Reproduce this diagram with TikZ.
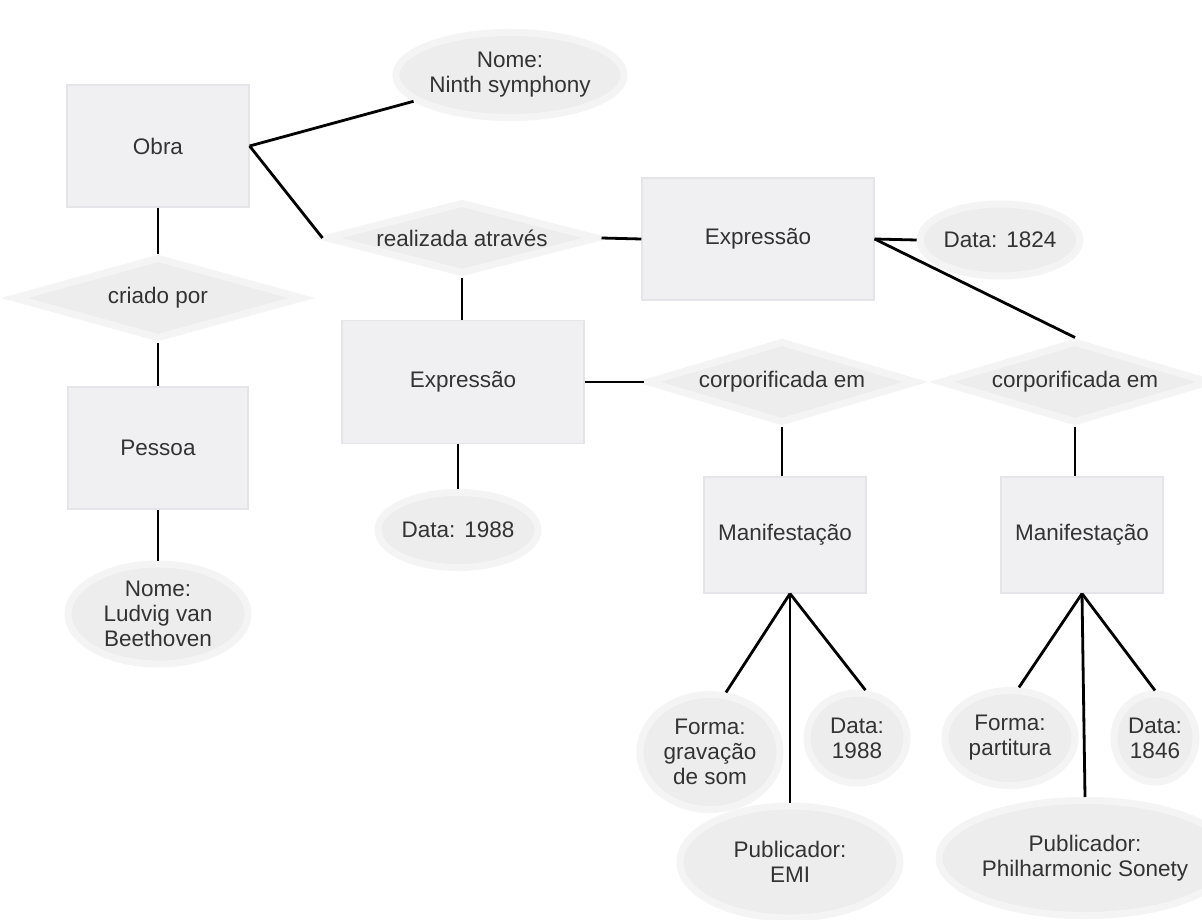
\documentclass[tikz,border=0pt]{standalone}
\usepackage{fontspec}
\setmainfont{Liberation Sans}
\usetikzlibrary{shapes.geometric}
\definecolor{boxfill}{HTML}{F0F0F3}
\definecolor{boxedge}{HTML}{E4E4E9}
\definecolor{blobfill}{HTML}{EDEDED}
\definecolor{blobedge}{HTML}{F4F4F4}
\definecolor{txt}{HTML}{333333}
\begin{document}
\begin{tikzpicture}[x=1pt,y=-1pt,
  font=\fontsize{22.5}{25}\selectfont, text=txt,
  entity/.style={rectangle, fill=boxfill, draw=boxedge, line width=1.2pt, inner sep=0pt},
  attr/.style={ellipse, fill=blobfill, draw=blobedge, line width=7pt, inner sep=0pt, align=center},
  rel/.style={diamond, aspect=4, fill=blobfill, draw=blobedge, line width=7pt, inner sep=0pt},
  link/.style={line width=2.8pt, draw=black}]
\useasboundingbox[fill=white] (0,0) rectangle (1202,920);

% entities
\node[entity, minimum width=182pt, minimum height=122pt] (obra) at (158,146) {Obra};
\node[entity, minimum width=180pt, minimum height=122pt] (pessoa) at (158,448) {Pessoa};
\node[entity, minimum width=232pt, minimum height=122pt] (exp2) at (758,239) {Expressão};
\node[entity, minimum width=242pt, minimum height=123pt] (exp1) at (463,382) {Expressão};
\node[entity, minimum width=162pt, minimum height=116pt] (man1) at (785,535) {Manifestação};
\node[entity, minimum width=162pt, minimum height=116pt] (man2) at (1082,535) {Manifestação};

% relationships
\node[rel, minimum width=290pt, minimum height=82pt] (criado) at (158,298) {criado por};
\node[rel, minimum width=272pt, minimum height=72pt] (real) at (462,238) {realizada através};
\node[rel, minimum width=270pt, minimum height=82pt] (corp1) at (782,382) {corporificada em};
\node[rel, minimum width=270pt, minimum height=82pt] (corp2) at (1075,382) {corporificada em};

% attributes
\node[attr, minimum width=195pt, minimum height=85pt] (nome1) at (510,75) {Nome:\\Ninth symphony};
\node[attr, minimum width=180pt, minimum height=100pt] (nome2) at (158,614) {Nome:\\Ludvig van\\Beethoven};
\node[attr, minimum width=150pt, minimum height=72pt] (data1824) at (1000,240) {Data:\hspace{0.4em}1824};
\node[attr, minimum width=160pt, minimum height=75pt] (data1988a) at (458,530) {Data:\hspace{0.4em}1988};
\node[attr, minimum width=140pt, minimum height=115pt] (forma1) at (710,752) {Forma:\\gravação\\de som};
\node[attr, minimum width=100pt, minimum height=90pt] (data1988b) at (857,738) {Data:\\1988};
\node[attr, minimum width=220pt, minimum height=112pt] (pub1) at (790,862) {Publicador:\\EMI};
\node[attr, minimum width=130pt, minimum height=95pt] (forma2) at (1010,738) {Forma:\\partitura};
\node[attr, minimum width=82pt, minimum height=88pt] (data1846) at (1155,738) {Data:\\1846};
\node[attr, minimum width=235pt, minimum height=115pt] (pub2) at (1085,858) {Publicador:\\Philharmonic Sonety};

% connectors
\draw[link] (obra.east) -- (nome1);
\draw[link] (obra.east) -- (real.west);
\draw[link] (obra) -- (criado);
\draw[link] (criado) -- (pessoa);
\draw[link] (pessoa) -- (nome2);
\draw[link] (real.east) -- (exp2.west);
\draw[link] (real.south) -- (real.south |- exp1.north);
\draw[link] (exp2.east) -- (data1824.west);
\draw[link] (exp2.east) -- (corp2.north);
\draw[link] (exp1.east) -- (corp1.west);
\draw[link] (exp1.south -| data1988a.north) -- (data1988a.north);
\draw[link] (corp1.south) -- (corp1.south |- man1.north);
\draw[link] (corp2.south) -- (corp2.south |- man2.north);
\draw[link] ([xshift=5pt]man1.south) -- (forma1.75);
\draw[link] ([xshift=5pt]man1.south) -- (data1988b.80);
\draw[link] ([xshift=5pt]man1.south) -- ([xshift=5pt]man1.south |- pub1.north);
\draw[link] (man2.south) -- (forma2.80);
\draw[link] (man2.south) -- (data1846.north);
\draw[link] (man2.south) -- (pub2.north);
\end{tikzpicture}
\end{document}
